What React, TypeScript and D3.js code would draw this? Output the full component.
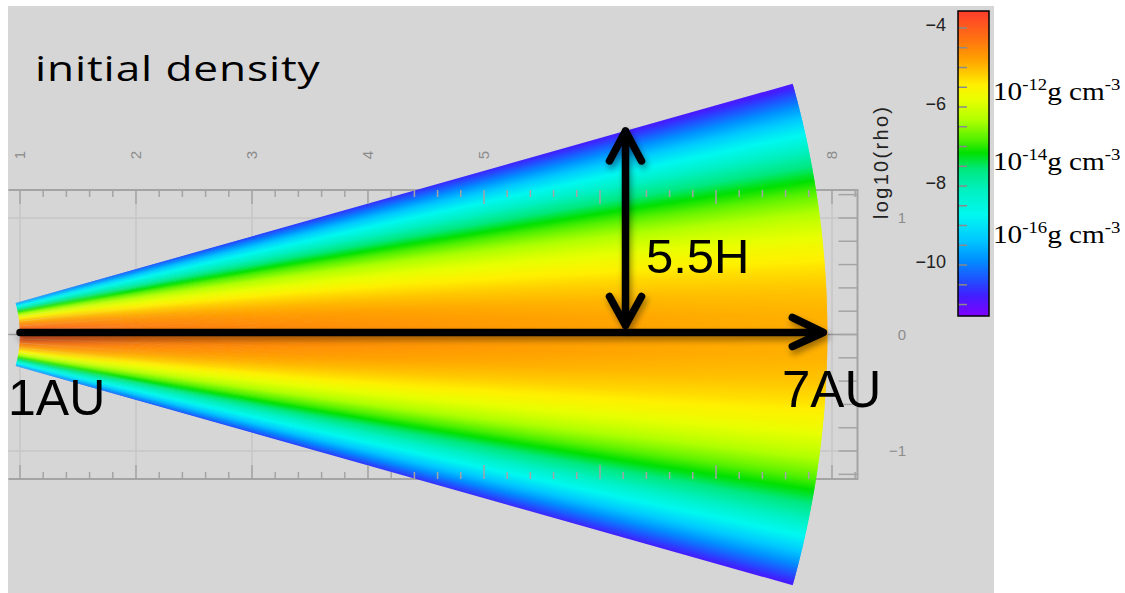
import React, { useEffect, useRef } from 'react';
import * as d3 from 'd3';

const W = 1125;
const H = 593;

// midplane log10(rho) read along the arrow, radius in axis units
const midRadius = [1, 2, 3, 4, 5, 6, 7, 7.96];
const midLogRho = [-3.9, -4.3, -4.48, -4.6, -4.7, -4.78, -4.85, -4.9];
// vertical profile: height above midplane in H, drop of log10(rho)
const zOverH = [0, 0.5, 1, 1.5, 2, 2.5, 3, 3.5, 4, 4.5, 5, 5.5];
const logDrop = [0, 0.05, 0.2, 0.45, 0.79, 1.24, 1.78, 2.43, 3.17, 4.02, 4.96, 6.0];
const scaleHeight = 0.05; // radians
const wedgeEdgeH = 5.5;

// colour bar
const cbValues = [-3.57, -4.3, -4.81, -5.19, -5.44, -5.82, -6.33, -6.84, -7.16, -7.59, -8.1, -8.73, -9.37, -9.87, -10.38, -10.76, -11.29];
const cbColors = ['#ff3c2c', '#ff7410', '#ffa200', '#ffd000', '#fff000', '#e8ff00', '#b0ff00', '#50f000', '#00e000', '#00e880', '#00f0c0', '#00f8f0', '#00c8ff', '#0090ff', '#2050ff', '#4020ff', '#8000ff'];
const cbTickLabels = [-4, -6, -8, -10];
const unitExps = ['-12', '-14', '-16'];
const unitAt = [-5.57, -7.34, -9.19];

const xTicks = [1, 2, 3, 4, 5, 6, 7, 8];
const yTicks = [-1, 0, 1];
const arrowX = 6.22;

const App: React.FC = () => {
  const svgRef = useRef<SVGSVGElement>(null);

  useEffect(() => {
    if (!svgRef.current) return;
    const svg = d3.select(svgRef.current);
    svg.selectAll('*').remove();

    const x = d3.scaleLinear().domain([0.9, 8.22]).range([8.4, 857.5]);
    const y = d3.scaleLinear().domain([-1.24, 1.24]).range([479, 190]);
    const cb = d3.scaleLinear().domain([-3.57, -11.29]).range([11, 316]);
    const color = d3.scaleLinear<string>().domain(cbValues).range(cbColors)
      .interpolate(d3.interpolateRgb).clamp(true);
    const drop = d3.scaleLinear().domain(zOverH).range(logDrop).clamp(true);

    const cx = x(0);
    const cy = y(0);
    const rPx = (r: number) => x(r) - x(0);
    const axisCol = '#a4a4a4';
    const gridCol = '#c6c6c6';
    const sans = 'Liberation Sans, Arial, sans-serif';

    const defs = svg.append('defs');

    svg.append('rect').attr('x', 8).attr('y', 6).attr('width', 986).attr('height', H - 6)
      .attr('fill', '#d6d6d6');

    // grid
    const g = svg.append('g');
    g.selectAll('line.vg').data(xTicks).join('line')
      .attr('x1', d => x(d)).attr('x2', d => x(d)).attr('y1', y(1.24)).attr('y2', y(-1.24))
      .attr('stroke', gridCol).attr('stroke-width', 1.5);
    g.selectAll('line.hg').data(yTicks).join('line')
      .attr('x1', x(0.9)).attr('x2', x(8.22)).attr('y1', d => y(d)).attr('y2', d => y(d))
      .attr('stroke', d => (d === 0 ? '#9a9a9a' : gridCol)).attr('stroke-width', 1.5);

    // box (no left side)
    g.append('path')
      .attr('d', `M${x(0.9)},${y(1.24)}H${x(8.22)}V${y(-1.24)}H${x(0.9)}`)
      .attr('fill', 'none').attr('stroke', axisCol).attr('stroke-width', 2);

    // top tick labels (rotated)
    g.selectAll('text.xl').data(xTicks).join('text')
      .attr('transform', d => `translate(${x(d)},155) rotate(-90)`)
      .attr('text-anchor', 'middle').attr('dy', '0.35em')
      .attr('font-family', sans).attr('font-size', 15).attr('fill', '#8c8c8c')
      .text(d => d3.format('d')(d));

    // right tick labels
    g.selectAll('text.yl').data(yTicks).join('text')
      .attr('x', 906).attr('y', d => y(d)).attr('text-anchor', 'end').attr('dy', '0.35em')
      .attr('font-family', sans).attr('font-size', 15).attr('fill', '#8c8c8c')
      .text(d => (d < 0 ? '\u2212' + Math.abs(d) : String(d)));

    // density wedge: angular slices, each with a radial gradient along the radius
    const thetaMax = wedgeEdgeH * scaleHeight;
    const nSlices = 240;
    const step = (2 * thetaMax) / nSlices;
    const rOut = rPx(midRadius[midRadius.length - 1]);
    const arc = d3.arc<any>().innerRadius(rPx(midRadius[0])).outerRadius(rOut);
    const wedge = svg.append('g').attr('transform', `translate(${cx},${cy})`);
    d3.range(nSlices).forEach(j => {
      const t0 = -thetaMax + j * step;
      const t1 = t0 + step;
      const tc = (t0 + t1) / 2;
      const dz = drop(Math.abs(tc) / scaleHeight);
      const id = `slice${j}`;
      const grad = defs.append('radialGradient').attr('id', id)
        .attr('gradientUnits', 'userSpaceOnUse')
        .attr('cx', 0).attr('cy', 0).attr('fx', 0).attr('fy', 0).attr('r', rOut);
      midRadius.forEach((r, i) => {
        grad.append('stop').attr('offset', rPx(r) / rOut)
          .attr('stop-color', color(midLogRho[i] - dz));
      });
      const a0 = Math.max(-thetaMax, t0 - step * 0.4);
      const a1 = Math.min(thetaMax, t1 + step * 0.4);
      wedge.append('path')
        .attr('d', arc({ startAngle: Math.PI / 2 - a1, endAngle: Math.PI / 2 - a0 }) || '')
        .attr('fill', `url(#${id})`);
    });

    // ticks drawn over the wedge
    const minorX = d3.range(5, 42).map(i => i / 5);
    const isMajor = (d: number) => Math.abs(d - Math.round(d)) < 1e-6;
    const tk = svg.append('g').attr('stroke', axisCol).attr('stroke-width', 1.5);
    tk.selectAll('line.tt').data(minorX).join('line')
      .attr('x1', d => x(d)).attr('x2', d => x(d))
      .attr('y1', y(1.24)).attr('y2', d => y(1.24) + (isMajor(d) ? 14 : 7));
    tk.selectAll('line.bt').data(minorX).join('line')
      .attr('x1', d => x(d)).attr('x2', d => x(d))
      .attr('y1', y(-1.24)).attr('y2', d => y(-1.24) - (isMajor(d) ? 14 : 7));
    const minorY = d3.range(-6, 7).map(i => i / 5);
    tk.selectAll('line.rt').data(minorY).join('line')
      .attr('x1', x(8.22)).attr('x2', x(8.22) - 19)
      .attr('y1', d => y(d)).attr('y2', d => y(d));

    // arrows
    const shadow = defs.append('filter').attr('id', 'shadow')
      .attr('x', '-10%').attr('y', '-20%').attr('width', '120%').attr('height', '140%');
    shadow.append('feDropShadow').attr('dx', 2).attr('dy', 4).attr('stdDeviation', 3)
      .attr('flood-color', '#000').attr('flood-opacity', 0.4);
    const ar = svg.append('g').attr('stroke', '#000').attr('stroke-width', 7.5)
      .attr('stroke-linecap', 'round').attr('stroke-linejoin', 'round').attr('fill', 'none')
      .attr('filter', 'url(#shadow)');
    const hx0 = x(midRadius[0]);
    const hx1 = cx + rOut - 4;
    ar.append('path').attr('d', `M${hx0},${cy - 2}H${hx1}M${hx1 - 31},${cy - 17}L${hx1},${cy - 2}L${hx1 - 31},${cy + 12}`);
    const vx = x(arrowX);
    const vTop = cy - (vx - cx) * Math.tan(thetaMax);
    const vBot = cy - 9;
    ar.append('path').attr('d', `M${vx},${vBot}V${vTop}M${vx - 16},${vTop + 30}L${vx},${vTop}L${vx + 16},${vTop + 30}M${vx - 16},${vBot - 29}L${vx},${vBot}L${vx + 16},${vBot - 29}`);

    // annotations
    svg.append('text').attr('transform', 'translate(35,81) scale(1.3,1)')
      .attr('font-family', 'Open Sans, sans-serif')
      .attr('font-size', 34).attr('textLength', 219).attr('lengthAdjust', 'spacing')
      .attr('fill', '#000').text('initial density');
    svg.append('text').attr('x', 646).attr('y', 273).attr('font-family', sans)
      .attr('font-size', 49).attr('fill', '#000').text('5.5H');
    svg.append('text').attr('x', 8).attr('y', 415).attr('font-family', sans)
      .attr('font-size', 50).attr('fill', '#000').text('1AU');
    svg.append('text').attr('x', 782).attr('y', 407).attr('font-family', sans)
      .attr('font-size', 51).attr('fill', '#000').text('7AU');

    svg.append('text').attr('transform', 'translate(881,163) rotate(-90)')
      .attr('text-anchor', 'middle').attr('dy', '0.35em')
      .attr('font-family', sans).attr('font-size', 20).attr('textLength', 112)
      .attr('lengthAdjust', 'spacing').attr('fill', '#222').text('log10(rho)');

    // colour bar
    const cbGrad = defs.append('linearGradient').attr('id', 'cbgrad')
      .attr('x1', 0).attr('y1', 0).attr('x2', 0).attr('y2', 1);
    const cbTop = cb(cbValues[0]);
    const cbBot = cb(cbValues[cbValues.length - 1]);
    cbValues.forEach((v, i) => {
      cbGrad.append('stop').attr('offset', (cb(v) - cbTop) / (cbBot - cbTop))
        .attr('stop-color', cbColors[i]);
    });
    const cbX = 958;
    const cbW = 31;
    svg.append('rect').attr('x', cbX).attr('y', cbTop).attr('width', cbW)
      .attr('height', cbBot - cbTop).attr('fill', 'url(#cbgrad)');
    svg.append('g').selectAll('line').data(d3.range(-4, -11.01, -0.5)).join('line')
      .attr('x1', cbX).attr('x2', cbX + 9).attr('y1', d => cb(d)).attr('y2', d => cb(d))
      .attr('stroke', '#8a8a8a').attr('stroke-width', 1.5);
    svg.append('rect').attr('x', cbX).attr('y', cbTop).attr('width', cbW)
      .attr('height', cbBot - cbTop).attr('fill', 'none')
      .attr('stroke', '#000').attr('stroke-width', 1.5);
    svg.append('g').selectAll('text').data(cbTickLabels).join('text')
      .attr('x', 946).attr('y', d => cb(d) - 3).attr('dy', '0.35em').attr('text-anchor', 'end')
      .attr('font-family', sans).attr('font-size', 18).attr('fill', '#222')
      .text(d => '\u2212' + Math.abs(d));

    const units = svg.append('g').attr('font-family', 'Liberation Serif, Times New Roman, serif')
      .attr('fill', '#000');
    unitExps.forEach((e, i) => {
      const t = units.append('text')
        .attr('transform', `translate(993,${cb(unitAt[i]) + 10}) scale(1.17,1)`)
        .attr('font-size', 25);
      t.append('tspan').text('10');
      t.append('tspan').attr('dy', -10).attr('font-size', 16).text(e);
      t.append('tspan').attr('dy', 10).text('g cm');
      t.append('tspan').attr('dy', -10).attr('font-size', 16).text('-3');
    });
  }, []);

  return (
    <svg ref={svgRef} width={W} height={H}
      style={{ position: 'absolute', left: 0, top: 0, background: '#fff' }} />
  );
};

export default App;
